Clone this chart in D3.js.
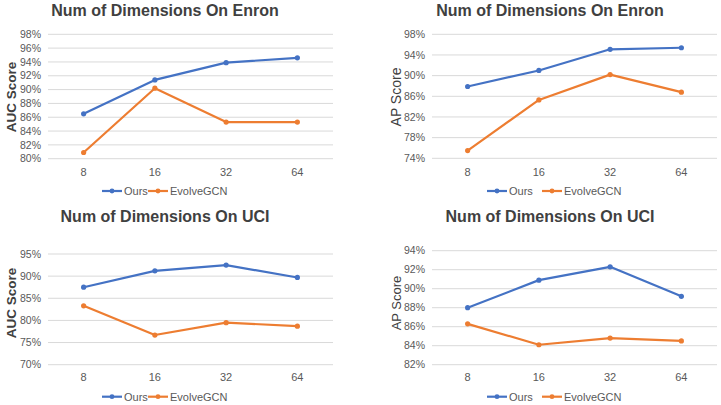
<!DOCTYPE html>
<html><head><meta charset="utf-8">
<script src="https://cdn.jsdelivr.net/npm/d3@7"></script>
<style>body{margin:0;background:#fff}svg{display:block}</style>
</head><body>
<svg id="c" width="721" height="405"></svg>
<script>
const dims = ["8", "16", "32", "64"];
const seriesNames = ["Ours", "EvolveGCN"];
const enronAucOurs = [86.5, 91.4, 93.9, 94.6];
const enronAucEvolve = [80.9, 90.2, 85.3, 85.3];
const enronApOurs = [87.9, 91.0, 95.1, 95.4];
const enronApEvolve = [75.5, 85.3, 90.2, 86.8];
const uciAucOurs = [87.5, 91.2, 92.5, 89.7];
const uciAucEvolve = [83.3, 76.7, 79.5, 78.7];
const uciApOurs = [88.0, 90.9, 92.3, 89.2];
const uciApEvolve = [86.3, 84.1, 84.8, 84.5];
const enronAucTicks = [80, 82, 84, 86, 88, 90, 92, 94, 96, 98];
const enronApTicks = [74, 78, 82, 86, 90, 94, 98];
const uciAucTicks = [70, 75, 80, 85, 90, 95];
const uciApTicks = [82, 84, 86, 88, 90, 92, 94];
const titles = ["Num of Dimensions On Enron", "Num of Dimensions On Enron", "Num of Dimensions On UCI", "Num of Dimensions On UCI"];
const yLabels = ["AUC Score", "AP Score", "AUC Score", "AP Score"];

const colors = ["#4472C4", "#ED7D31"];
const svg = d3.select("#c");

const panels = [
  {title: titles[0], ylab: yLabels[0], ours: enronAucOurs, evo: enronAucEvolve, ticks: enronAucTicks,
   x0: 48, x1: 333, yb: 158.7, yt: 34.3, titleX: 165, titleY: 16, ylabX: 15.5, ylabY: 97, ylabBold: true, ylabSize: 13.5,
   tickX: 41, xlabY: 175.5, legY: 191, legX: [102, 148]},
  {title: titles[1], ylab: yLabels[1], ours: enronApOurs, evo: enronApEvolve, ticks: enronApTicks,
   x0: 432, x1: 717, yb: 158.3, yt: 34.3, titleX: 550, titleY: 16, ylabX: 400.5, ylabY: 97, ylabBold: false, ylabSize: 14,
   tickX: 425, xlabY: 175.5, legY: 191, legX: [487, 542]},
  {title: titles[2], ylab: yLabels[2], ours: uciAucOurs, evo: uciAucEvolve, ticks: uciAucTicks,
   x0: 48, x1: 333, yb: 364.7, yt: 254, titleX: 165, titleY: 222, ylabX: 15.5, ylabY: 303, ylabBold: true, ylabSize: 13.5,
   tickX: 41, xlabY: 380.5, legY: 396.7, legX: [102, 148]},
  {title: titles[3], ylab: yLabels[3], ours: uciApOurs, evo: uciApEvolve, ticks: uciApTicks,
   x0: 432, x1: 717, yb: 364.7, yt: 250.7, titleX: 550, titleY: 222, ylabX: 400.5, ylabY: 303, ylabBold: false, ylabSize: 13,
   tickX: 425, xlabY: 380.5, legY: 396.7, legX: [487, 542]}
];

panels.forEach(p => {
  const g = svg.append("g");
  const x = d3.scalePoint().domain(dims).range([p.x0, p.x1]).padding(0.5);
  const y = d3.scaleLinear().domain([p.ticks[0], p.ticks[p.ticks.length - 1]]).range([p.yb, p.yt]);

  g.selectAll(".grid").data(p.ticks).join("line")
    .attr("x1", p.x0).attr("x2", p.x1)
    .attr("y1", d => y(d)).attr("y2", d => y(d))
    .attr("stroke", "#d9d9d9").attr("stroke-width", 1);

  g.selectAll(".yt").data(p.ticks).join("text")
    .attr("x", p.tickX).attr("y", d => y(d)).attr("dy", "0.35em")
    .attr("text-anchor", "end").attr("font-family", "Liberation Sans, Arial, sans-serif")
    .attr("font-size", 10.5).attr("fill", "#595959")
    .text(d => d + "%");

  g.selectAll(".xt").data(dims).join("text")
    .attr("x", d => x(d)).attr("y", p.xlabY)
    .attr("text-anchor", "middle").attr("font-family", "Liberation Sans, Arial, sans-serif")
    .attr("font-size", 11).attr("fill", "#595959")
    .text(d => d);

  g.append("text").attr("x", p.titleX).attr("y", p.titleY)
    .attr("text-anchor", "middle").attr("font-family", "Liberation Sans, Arial, sans-serif")
    .attr("font-size", 16).attr("font-weight", "bold").attr("fill", "#404040")
    .text(p.title);

  g.append("text").attr("transform", `translate(${p.ylabX},${p.ylabY}) rotate(-90)`)
    .attr("text-anchor", "middle").attr("font-family", "Liberation Sans, Arial, sans-serif")
    .attr("font-size", p.ylabSize).attr("font-weight", p.ylabBold ? "bold" : "normal").attr("fill", "#404040")
    .text(p.ylab);

  const line = d3.line().x((d, i) => x(dims[i])).y(d => y(d));
  [p.ours, p.evo].forEach((vals, si) => {
    g.append("path").datum(vals).attr("d", line)
      .attr("fill", "none").attr("stroke", colors[si]).attr("stroke-width", 2.2)
      .attr("stroke-linejoin", "round");
    g.selectAll(".pt" + si).data(vals).join("circle")
      .attr("cx", (d, i) => x(dims[i])).attr("cy", d => y(d)).attr("r", 2.6)
      .attr("fill", colors[si]);
  });

  seriesNames.forEach((name, si) => {
    const lx = p.legX[si];
    g.append("line").attr("x1", lx).attr("x2", lx + 20).attr("y1", p.legY).attr("y2", p.legY)
      .attr("stroke", colors[si]).attr("stroke-width", 2.2);
    g.append("circle").attr("cx", lx + 10).attr("cy", p.legY).attr("r", 2.4).attr("fill", colors[si]);
    g.append("text").attr("x", lx + 22).attr("y", p.legY).attr("dy", "0.35em")
      .attr("font-family", "Liberation Sans, Arial, sans-serif").attr("font-size", 11).attr("fill", "#595959")
      .text(name);
  });
});
</script>
</body></html>
